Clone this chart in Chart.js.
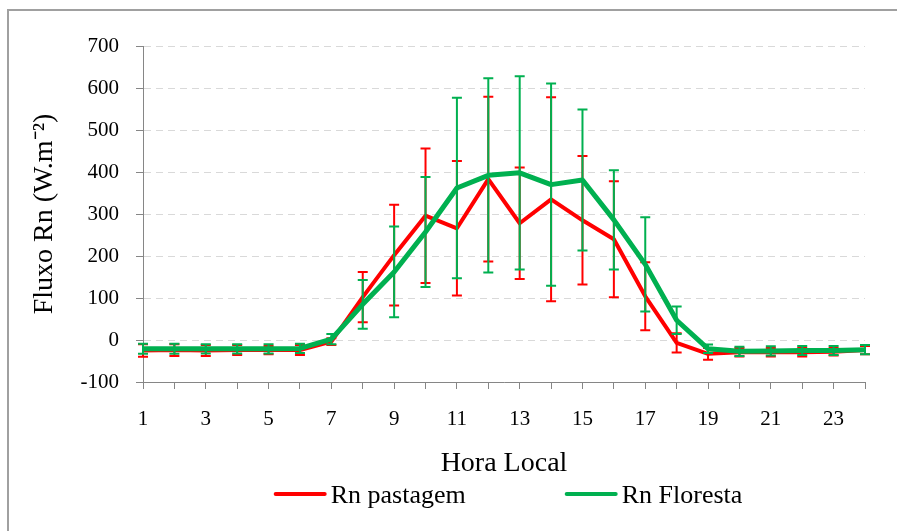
<!DOCTYPE html>
<html>
<head>
<meta charset="utf-8">
<script src="https://cdn.jsdelivr.net/npm/chart.js@4.4.0/dist/chart.umd.min.js"></script>
<style>
  html, body { margin: 0; padding: 0; background: #fff; }
  #wrap { width: 897px; height: 531px; position: relative; }
</style>
</head>
<body>
<div id="wrap"><canvas id="RnChart"></canvas></div>
<script>
const hours = [1, 2, 3, 4, 5, 6, 7, 8, 9, 10, 11, 12, 13, 14, 15, 16, 17, 18, 19, 20, 21, 22, 23, 24];

const rnPastagem = [-25, -24, -25, -24, -24, -24, -4, 102, 202, 296, 266, 383, 278, 335, 285, 240, 104, -7, -33, -29, -29, -29, -28, -24];
const rnPastagemErr = [15, 14, 13, 12, 10, 12, 8, 60, 120, 160, 160, 196, 133, 243, 153, 138, 81, 23, 14, 10, 10, 10, 9, 10];

const rnFloresta = [-21, -21, -21, -21, -21, -20, 2, 85, 162, 257, 362, 392, 398, 370, 381, 286, 180, 47, -21, -27, -26, -25, -25, -23];
const rnFlorestaErr = [12, 12, 11, 11, 11, 11, 12, 58, 108, 131, 215, 231, 230, 241, 168, 118, 112, 33, 10, 11, 11, 11, 11, 11];

const yTickValues = [-100, 0, 100, 200, 300, 400, 500, 600, 700];

const serif = "'Liberation Serif', 'Times New Roman', serif";
const axisGrey = "#868686";

// vertical error bars with caps, drawn right after each line
const errorBars = {
  id: "errorBars",
  afterDatasetDraw(chart, args) {
    const ds = chart.data.datasets[args.index];
    if (!ds.errors) return;
    const ctx = chart.ctx;
    const yScale = chart.scales.y;
    ctx.save();
    ctx.strokeStyle = ds.borderColor;
    ctx.lineWidth = 2;
    args.meta.data.forEach((pt, i) => {
      const top = yScale.getPixelForValue(ds.data[i] + ds.errors[i]);
      const bot = yScale.getPixelForValue(ds.data[i] - ds.errors[i]);
      ctx.beginPath();
      ctx.moveTo(pt.x, top);
      ctx.lineTo(pt.x, bot);
      ctx.moveTo(pt.x - 5, top);
      ctx.lineTo(pt.x + 5, top);
      ctx.moveTo(pt.x - 5, bot);
      ctx.lineTo(pt.x + 5, bot);
      ctx.stroke();
    });
    ctx.restore();
  },
};

// white page with the grey chart frame
const frame = {
  id: "frame",
  beforeDraw(chart) {
    const ctx = chart.ctx;
    ctx.save();
    ctx.fillStyle = "#fff";
    ctx.fillRect(0, 0, chart.width, chart.height);
    ctx.strokeStyle = "#a0a0a0";
    ctx.lineWidth = 2;
    ctx.strokeRect(8, 10, chart.width + 20, chart.height + 20);
    ctx.restore();
  },
};

// legend with long line samples sitting close to the text
const lineLegend = {
  id: "lineLegend",
  afterDraw(chart) {
    const { ctx, chartArea } = chart;
    ctx.save();
    ctx.font = Chart.helpers.toFontString({ family: serif, size: 26, style: "normal", weight: null, lineHeight: 1.2 });
    const items = chart.data.datasets.map((ds) => ({
      color: ds.borderColor,
      text: ds.label,
      w: ctx.measureText(ds.label).width,
    }));
    const sample = 53, gap = 4, spacing = 99;
    const total = items.reduce((s, it) => s + sample + gap + it.w, 0) + spacing * (items.length - 1);
    let x = (chartArea.left + chartArea.right) / 2 - total / 2 + 4;
    const y = chart.height - 37;
    items.forEach((it) => {
      ctx.strokeStyle = it.color;
      ctx.lineWidth = 4;
      ctx.lineCap = "round";
      ctx.beginPath();
      ctx.moveTo(x + 2, y);
      ctx.lineTo(x + sample - 2, y);
      ctx.stroke();
      ctx.fillStyle = "#000";
      ctx.textAlign = "left";
      ctx.textBaseline = "middle";
      ctx.fillText(it.text, x + sample + gap, y + 2);
      x += sample + gap + it.w + spacing;
    });
    ctx.restore();
  },
};

const ctx = document.getElementById("RnChart").getContext("2d");

const data = {
  labels: hours,
  datasets: [
    {
      label: "Rn pastagem",
      data: rnPastagem,
      errors: rnPastagemErr,
      borderColor: "#ff0000",
      backgroundColor: "#ff0000",
      borderWidth: 4,
      pointRadius: 0,
      tension: 0,
      borderJoinStyle: "round",
      order: 2,
    },
    {
      label: "Rn Floresta",
      data: rnFloresta,
      errors: rnFlorestaErr,
      borderColor: "#00b050",
      backgroundColor: "#00b050",
      borderWidth: 5,
      pointRadius: 0,
      tension: 0,
      borderJoinStyle: "round",
      order: 1,
    },
  ],
};

const options = {
  responsive: true,
  maintainAspectRatio: false,
  animation: false,
  devicePixelRatio: 1,
  layout: {
    padding: { left: 0, right: 32, top: 46, bottom: 51 },
  },
  plugins: {
    legend: { display: false },
    tooltip: { enabled: false },
  },
  scales: {
    x: {
      grid: {
        drawOnChartArea: false,
        drawTicks: true,
        tickLength: 7,
        tickColor: axisGrey,
      },
      border: { color: axisGrey, width: 1 },
      ticks: {
        autoSkip: false,
        maxRotation: 0,
        padding: 18,
        color: "#000",
        font: { family: serif, size: 21 },
        callback: function (value, index) {
          return index % 2 === 0 ? this.getLabelForValue(value) : "";
        },
      },
      title: {
        display: true,
        text: "Hora Local",
        color: "#000",
        font: { family: serif, size: 28 },
        padding: { top: 0, bottom: 0 },
      },
      afterFit(scale) {
        scale.height = 98;
      },
    },
    y: {
      min: yTickValues[0],
      max: yTickValues[yTickValues.length - 1],
      afterBuildTicks(scale) {
        scale.ticks = yTickValues.map((v) => ({ value: v }));
      },
      grid: {
        color: "#d9d9d9",
        tickColor: axisGrey,
        tickLength: 7,
        tickBorderDash: [],
      },
      border: { color: axisGrey, width: 1, dash: [7, 5] },
      ticks: {
        padding: 17,
        color: "#000",
        font: { family: serif, size: 21 },
      },
      title: {
        display: true,
        text: "Fluxo Rn (W.m\u207B\u00B2)",
        color: "#000",
        font: { family: serif, size: 28 },
        padding: { top: 28, bottom: 0 },
      },
      afterFit(scale) {
        scale.width = 143;
      },
    },
  },
};

new Chart(ctx, {
  type: "line",
  data: data,
  options: options,
  plugins: [frame, errorBars, lineLegend],
});
</script>
</body>
</html>
